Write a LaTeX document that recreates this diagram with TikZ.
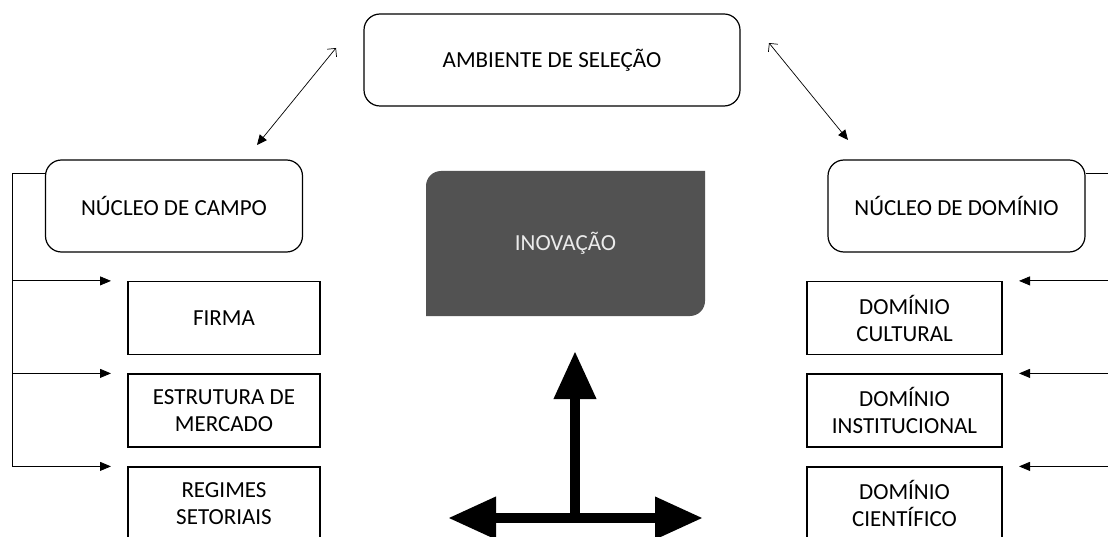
\documentclass[tikz,border=0pt]{standalone}
\usepackage{fontspec}
\setmainfont{Carlito}
\usetikzlibrary{arrows.meta}

\begin{document}
\begin{tikzpicture}[x=1pt,y=-1pt,
	caixa/.style={draw,line width=1.2pt,align=center,font=\fontsize{23}{27}\selectfont},
	nucleo/.style={caixa,rounded corners=16pt,minimum width=257pt,minimum height=92pt},
	item/.style={caixa,minimum width=193pt,minimum height=73pt,inner sep=2pt},
	seta/.style={line width=0.8pt,-{Triangle[length=11pt,width=9pt]}},
	dupla/.style={line width=0.7pt,{Triangle[length=10pt,width=9pt]}-{Straight Barb[length=6pt,width=12pt]}},
	grossa/.style={line width=10pt,{Triangle[length=48pt,width=40pt]}-{Triangle[length=48pt,width=40pt]}}]
	\useasboundingbox (0,0) rectangle (1108,537);
	%caixas de cima
	\node[nucleo,minimum width=376pt] (amb) at (552,60) {AMBIENTE DE SELEÇÃO};
	\node[nucleo] (campo) at (174,206) {NÚCLEO DE CAMPO};
	\node[nucleo] (dominio) at (956.5,206) {NÚCLEO DE DOMÍNIO};
	%lado esquerdo
	\node[item,minimum width=192pt] (firma) at (224,318) {FIRMA};
	\node[item,minimum width=192pt] (estrutura) at (224,410.5) {ESTRUTURA DE\\MERCADO};
	\node[item,minimum width=192pt] (regimes) at (224,503.5) {REGIMES\\SETORIAIS};
	%lado direito
	\node[item,minimum width=195pt] (cultural) at (904.5,318) {DOMÍNIO\\CULTURAL};
	\node[item,minimum width=195pt] (institucional) at (904.5,410.5) {DOMÍNIO\\INSTITUCIONAL};
	\node[item,minimum width=195pt] (cientifico) at (904.5,503.5) {DOMÍNIO\\CIENTÍFICO};
	%inovacao
	\fill[black!68] (426,316) -- (426,186) arc(180:270:15) -- (705,171) -- (705,301) arc(0:90:15) -- cycle;
	\node[font=\fontsize{23}{27}\selectfont,text=white!92!black] (inov) at (565.5,243.5) {INOVAÇÃO};
	%setas de cima
	\coordinate (a1) at (257,145);
	\coordinate (a2) at (336,48);
	\coordinate (b1) at (848,140);
	\coordinate (b2) at (769,43);
	\draw[dupla] (a1) -- (a2);
	\draw[dupla] (b1) -- (b2);
	%ligacoes laterais
	\coordinate (le) at (12,173);
	\coordinate (ld) at (1115,173);
	\draw[line width=0.8pt] (campo.west |- le) -- (le) -- (le |- regimes.north);
	\draw[line width=0.8pt] (dominio.east |- ld) -- (ld) -- (ld |- cientifico.north);
	\foreach \n in {firma,estrutura,regimes}
		\draw[seta] (le |- \n.north) -- ++(99,0);
	\foreach \n in {cultural,institucional,cientifico}
		\draw[seta] (ld |- \n.north) -- ++(-96,0);
	%cruz
	\coordinate (cruz) at (575,518);
	\coordinate (topo) at (575,351);
	\coordinate (esq) at (448,518);
	\coordinate (dir) at (703,518);
	\draw[line width=10pt,-{Triangle[length=48pt,width=40pt]}] (cruz) -- (topo);
	\draw[grossa] (esq) -- (dir);
\end{tikzpicture}
\end{document}
